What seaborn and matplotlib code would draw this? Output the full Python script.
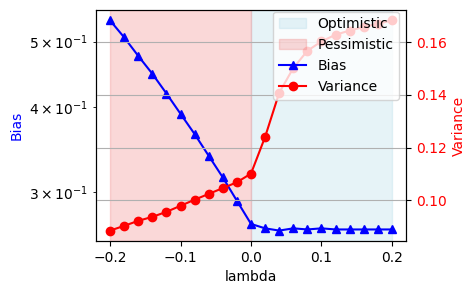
import matplotlib
matplotlib.use("Agg")
import matplotlib.pyplot as plt
import seaborn as sns
import numpy as np

lambdas = [-0.20, -0.18, -0.16, -0.14, -0.12, -0.10, -0.08, -0.06, -0.04, -0.02,
           0.00, 0.02, 0.04, 0.06, 0.08, 0.10, 0.12, 0.14, 0.16, 0.18, 0.20]
bias = [0.537, 0.507, 0.476, 0.448, 0.419, 0.391, 0.365, 0.339, 0.315, 0.291,
        0.269, 0.265, 0.263, 0.265, 0.264, 0.265, 0.264, 0.264, 0.264, 0.264, 0.264]
variance = [0.0886, 0.0904, 0.0923, 0.0938, 0.0957, 0.0980, 0.1003, 0.1025, 0.1047, 0.1069,
            0.1102, 0.1241, 0.1408, 0.1502, 0.1567, 0.1603, 0.1628, 0.1644, 0.1657, 0.1670, 0.1682]

fig, ax1 = plt.subplots(figsize=(4.76, 2.94), dpi=100)
fig.subplots_adjust(left=0.2017, right=0.853, top=0.966, bottom=0.180)

ax1.axvspan(0.0, 0.2, color="lightblue", alpha=0.3, label="Optimistic")
ax1.axvspan(-0.2, 0.0, color="lightcoral", alpha=0.3, label="Pessimistic")

sns.lineplot(x=lambdas, y=bias, ax=ax1, color="blue", marker="^", markersize=6,
             markeredgecolor="blue", markeredgewidth=1, label="Bias", legend=False)
ax1.set_yscale("log")
ax1.set_xlabel("lambda")
ax1.set_ylabel("Bias", color="blue")

ax2 = ax1.twinx()
sns.lineplot(x=lambdas, y=variance, ax=ax2, color="red", marker="o", markersize=6,
             markeredgecolor="red", markeredgewidth=1, label="Variance", legend=False)
ax2.set_ylabel("Variance", color="red")
ax2.tick_params(axis="y", labelcolor="red")
ax2.grid(True)

h1, l1 = ax1.get_legend_handles_labels()
h2, l2 = ax2.get_legend_handles_labels()
leg = ax2.legend(h1 + h2, l1 + l2, loc="upper right", bbox_to_anchor=(1.0, 1.023))
leg.set_zorder(10)

fig.savefig("out.png", dpi=100)
